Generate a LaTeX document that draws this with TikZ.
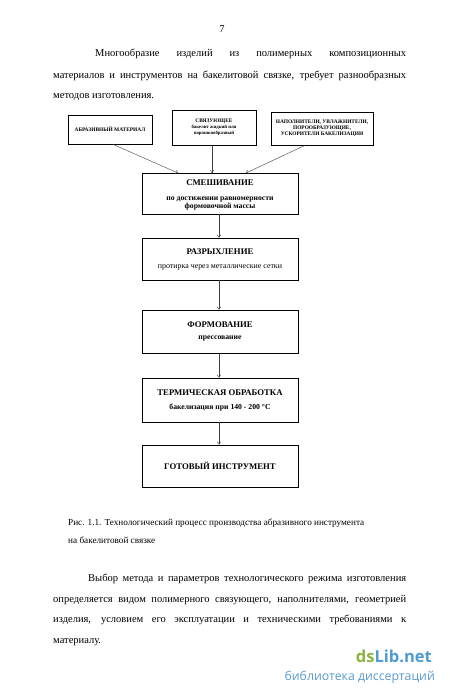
\documentclass[tikz,border=0pt]{standalone}
\usepackage{fontspec}
\setmainfont{Liberation Serif}
\newfontfamily\wmfont{Open Sans}
\usetikzlibrary{arrows.meta}
\definecolor{wmgreen}{HTML}{8CB33E}
\definecolor{wmblue}{HTML}{4F9CD3}
\definecolor{wmlight}{HTML}{5B9BD0}
\tikzset{
  body/.style={anchor=base west, inner sep=0pt, font=\fontsize{10.5}{12}\selectfont},
  capt/.style={anchor=base west, inner sep=0pt, font=\fontsize{9.2}{11}\selectfont},
  srcbox/.style={draw, line width=0.7pt, inner sep=0pt, align=center, font=\fontsize{5.4}{6.2}\selectfont\bfseries},
  stepbox/.style={draw, line width=0.8pt, inner sep=0pt, minimum width=156pt, align=center},
  ttl/.style={font=\fontsize{8.7}{10}\selectfont\bfseries, inner sep=0pt},
  sub/.style={font=\fontsize{7.7}{9}\selectfont\bfseries, inner sep=0pt},
  conn/.style={line width=0.4pt, draw=black!75, -{To[length=3pt,width=4pt]}}
}
\begin{document}
\begin{tikzpicture}[x=1pt,y=-1pt]
\useasboundingbox (0,0) rectangle (450,689);
\fill[white] (0,0) rectangle (450,689);
% page number
\node[anchor=base, inner sep=0pt, font=\fontsize{10.5}{12}\selectfont] (pg) at (222,32) {7};
% paragraph 1
\node[body] (p1a) at (95,56) {\makebox[311pt][s]{Многообразие изделий из полимерных композиционных}};
\node[body] (p1b) at (53,78) {\makebox[353pt][s]{материалов и инструментов на бакелитовой связке, требует разнообразных}};
\node[body] (p1c) at (53,98) {методов изготовления.};
% source boxes
\node[srcbox, minimum width=84pt, minimum height=29pt] (s1) at (110,129.5) {АБРАЗИВНЫЙ МАТЕРИАЛ};
\node[srcbox, minimum width=84pt, minimum height=35pt] (s2) at (214,127.5) {СВЯЗУЮЩЕЕ\\[-0.3pt]{\fontsize{4.8}{5.8}\selectfont бакелит жидкий или}\\[-0.3pt]{\fontsize{4.8}{5.8}\selectfont порошкообразный}};
\node[srcbox, minimum width=102pt, minimum height=33pt] (s3) at (322,128.5) {НАПОЛНИТЕЛИ, УВЛАЖНИТЕЛИ,\\ПОРООБРАЗУЮЩИЕ,\\УСКОРИТЕЛИ БАКЕЛИЗАЦИИ};
% step boxes
\node[stepbox, minimum height=41pt] (b1) at (220,193.5) {};
\node[ttl] (t1) at (220,183) {СМЕШИВАНИЕ};
\node[sub, align=center] (u1) at (220,203.5) {по достижении равномерности\\формовочной массы};
\node[stepbox, minimum height=42pt] (b2) at (220,259) {};
\node[ttl] (t2) at (220,252) {РАЗРЫХЛЕНИЕ};
\node[sub, font=\fontsize{7.9}{9}\selectfont] (u2) at (220,267) {протирка через металлические сетки};
\node[stepbox, minimum height=43pt] (b3) at (220,331.5) {};
\node[ttl] (t3) at (220,325) {ФОРМОВАНИЕ};
\node[sub] (u3) at (220,338.5) {прессование};
\node[stepbox, minimum height=44pt] (b4) at (220,400) {};
\node[ttl] (t4) at (220,393) {ТЕРМИЧЕСКАЯ ОБРАБОТКА};
\node[sub] (u4) at (220,408) {бакелизация при 140 - 200 \textdegree С};
\node[stepbox, minimum height=42pt] (b5) at (220,466) {};
\node[ttl] (t5) at (220,466) {ГОТОВЫЙ ИНСТРУМЕНТ};
% connectors
\coordinate (a1) at (178,173);
\coordinate (a2) at (212,173);
\coordinate (a3) at (246,173);
\draw[conn] (s1.south) ++(3,0) coordinate (o1) -- (a1);
\draw[conn] (s2.south -| a2) -- (a2);
\draw[conn] (s3.south) ++(-17,0) coordinate (o3) -- (a3);
\draw[conn] (b1.south -| 219,0) -- (b2.north -| 219,0);
\draw[conn] (b2.south -| 219,0) -- (b3.north -| 219,0);
\draw[conn] (b3.south -| 219,0) -- (b4.north -| 219,0);
\draw[conn] (b4.south -| 219,0) -- (b5.north -| 219,0);
% caption
\node[capt] (c1) at (68,525) {Рис. 1.1. Технологический процесс производства абразивного инструмента};
\node[capt] (c2) at (68,543) {на бакелитовой связке};
% paragraph 2
\node[body] (p2a) at (88,581) {\makebox[318pt][s]{Выбор метода и параметров технологического режима изготовления}};
\node[body] (p2b) at (53,602) {\makebox[353pt][s]{определяется видом полимерного связующего, наполнителями, геометрией}};
\node[body] (p2c) at (53,622) {\makebox[353pt][s]{изделия, условием его эксплуатации и техническими требованиями к}};
\node[body] (p2d) at (53,643) {материалу.};
% watermark
\node[anchor=base east, inner sep=0pt, font=\wmfont\fontsize{16.5}{18}\selectfont\bfseries] (wm1) at (432,662) {\textcolor{wmgreen}{ds}\textcolor{wmblue}{Lib.net}};
\node[anchor=base east, inner sep=0pt, font=\wmfont\fontsize{12.3}{14}\selectfont, text=wmlight] (wm2) at (435,680) {библиотека диссертаций};
\end{tikzpicture}
\end{document}
